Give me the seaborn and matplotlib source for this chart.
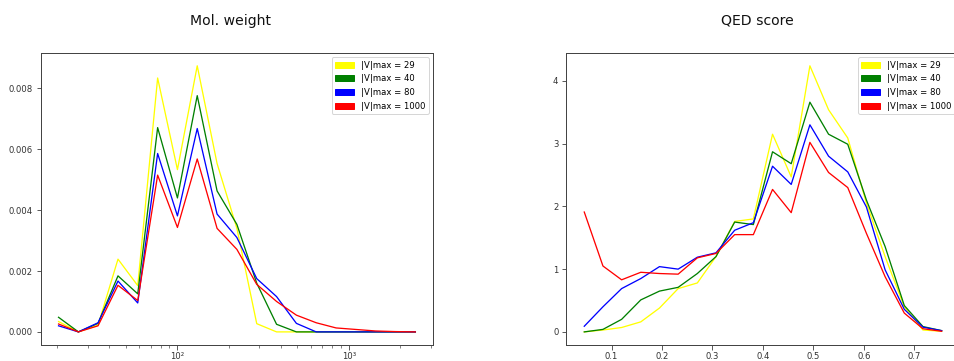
import matplotlib
matplotlib.use("Agg")
import matplotlib.pyplot as plt
from matplotlib.patches import Patch
from matplotlib.ticker import FuncFormatter, LogLocator
import seaborn as sns
import pandas as pd

# ---------------- data ----------------
series_labels = ["|V|max = 29", "|V|max = 40", "|V|max = 80", "|V|max = 1000"]
series_colors = ["yellow", "green", "blue", "red"]

mw_x = [20.3, 26.5, 34.5, 45.1, 58.8, 76.8, 100.2, 130.7, 170.6, 222.6,
        290.6, 379.2, 494.9, 645.9, 843.0, 1100.0, 1435.0, 1873.0, 2445.0]
mw_v29 = [0.00034, 0.0, 0.00022, 0.00239, 0.00152, 0.00834, 0.00533, 0.00874, 0.00553, 0.0034,
          0.00027, 0.0, 0.0, 0.0, 0.0, 0.0, 0.0, 0.0, 0.0]
mw_v40 = [0.00048, 0.0, 0.00028, 0.00184, 0.00125, 0.00671, 0.0044, 0.00776, 0.00463, 0.00353,
          0.0016, 0.00025, 0.0, 0.0, 0.0, 0.0, 0.0, 0.0, 0.0]
mw_v80 = [0.0002, 0.0, 0.0003, 0.00167, 0.00095, 0.00586, 0.00381, 0.00668, 0.00387, 0.0031,
          0.00175, 0.00116, 0.00028, 0.0, 0.0, 0.0, 0.0, 0.0, 0.0]
mw_v1000 = [0.00026, 0.0, 0.0002, 0.00153, 0.00103, 0.00515, 0.00343, 0.00568, 0.0034, 0.00271,
            0.00156, 0.001, 0.00055, 0.0003, 0.00013, 0.00008, 0.00003, 0.00001, 0.0]

qed_x = [0.046, 0.083, 0.120, 0.158, 0.195, 0.232, 0.270, 0.307, 0.344, 0.381,
         0.419, 0.456, 0.493, 0.530, 0.568, 0.605, 0.642, 0.680, 0.717, 0.754]
qed_v29 = [0.0, 0.03, 0.07, 0.16, 0.38, 0.69, 0.78, 1.2, 1.76, 1.8,
           3.15, 2.47, 4.24, 3.54, 3.09, 2.05, 1.2, 0.4, 0.03, 0.01]
qed_v40 = [0.0, 0.04, 0.2, 0.51, 0.65, 0.71, 0.93, 1.2, 1.75, 1.71,
           2.87, 2.68, 3.66, 3.15, 2.99, 2.1, 1.36, 0.42, 0.085, 0.02]
qed_v80 = [0.09, 0.4, 0.69, 0.85, 1.04, 1.0, 1.19, 1.26, 1.62, 1.74,
           2.64, 2.35, 3.3, 2.8, 2.55, 1.99, 0.99, 0.36, 0.075, 0.02]
qed_v1000 = [1.91, 1.05, 0.83, 0.95, 0.93, 0.92, 1.18, 1.25, 1.55, 1.55,
             2.27, 1.9, 3.02, 2.54, 2.3, 1.57, 0.88, 0.3, 0.05, 0.01]

titles = ["Mol. weight", "QED score"]


def long_frame(x, series):
    rows = []
    for lab, vals in zip(series_labels, series):
        for xi, yi in zip(x, vals):
            rows.append({"x": xi, "y": yi, "series": lab})
    return pd.DataFrame(rows)


df_mw = long_frame(mw_x, [mw_v29, mw_v40, mw_v80, mw_v1000])
df_qed = long_frame(qed_x, [qed_v29, qed_v40, qed_v80, qed_v1000])
palette = dict(zip(series_labels, series_colors))

# ---------------- figure ----------------
plt.rcParams.update({
    "font.family": ["DejaVu Sans"],
    "xtick.labelsize": 8.5,
    "ytick.labelsize": 8.5,
    "xtick.color": "#333333",
    "ytick.color": "#333333",
    "xtick.major.size": 4.5,
    "ytick.major.size": 4.5,
    "xtick.minor.size": 2.5,
    "xtick.major.pad": 2.5,
    "xtick.minor.pad": 2.5,
    "axes.edgecolor": "#444444",
    "axes.linewidth": 1.0,
})

W, H = 954, 361
fig = plt.figure(figsize=(W / 72, H / 72), dpi=72)
fig.patch.set_facecolor("white")

ax1 = fig.add_axes([40.7 / W, (H - 345.2) / H, (433.2 - 40.7) / W, (345.2 - 52.5) / H])
ax2 = fig.add_axes([566.4 / W, (H - 345.2) / H, (959.5 - 566.4) / W, (345.2 - 52.5) / H])

for ax, df in [(ax1, df_mw), (ax2, df_qed)]:
    sns.lineplot(data=df, x="x", y="y", hue="series", palette=palette,
                 hue_order=series_labels, linewidth=1.3, ax=ax, legend=False,
                 estimator=None, sort=True)
    ax.set_xlabel("")
    ax.set_ylabel("")
    handles = [Patch(color=c, label=l) for c, l in zip(series_colors, series_labels)]
    leg = ax.legend(handles=handles, loc="upper right", fontsize=8.5,
                    handlelength=2.2, handleheight=0.7, labelspacing=0.55,
                    borderaxespad=0.55, framealpha=0.8)
    leg.get_frame().set_edgecolor("#cccccc")

ax1.set_xscale("log")
ax1.margins(x=0.05, y=0.05)

_sup = str.maketrans("0123456789", "⁰¹²³⁴⁵⁶⁷⁸⁹")


def log_label(v, pos):
    import math
    e = int(round(math.log10(v)))
    return "10" + str(e).translate(_sup)


ax1.xaxis.set_major_locator(LogLocator(base=10))
ax1.xaxis.set_major_formatter(FuncFormatter(log_label))
ax1.tick_params(axis="x", which="major", pad=2.0, labelsize=8.5)

fig.text(230 / W, 1 - 21 / H, titles[0], ha="center", va="center", fontsize=14, color="#111111")
fig.text(757 / W, 1 - 21 / H, titles[1], ha="center", va="center", fontsize=14, color="#111111")

fig.savefig("out.png", dpi=72, facecolor="white")
